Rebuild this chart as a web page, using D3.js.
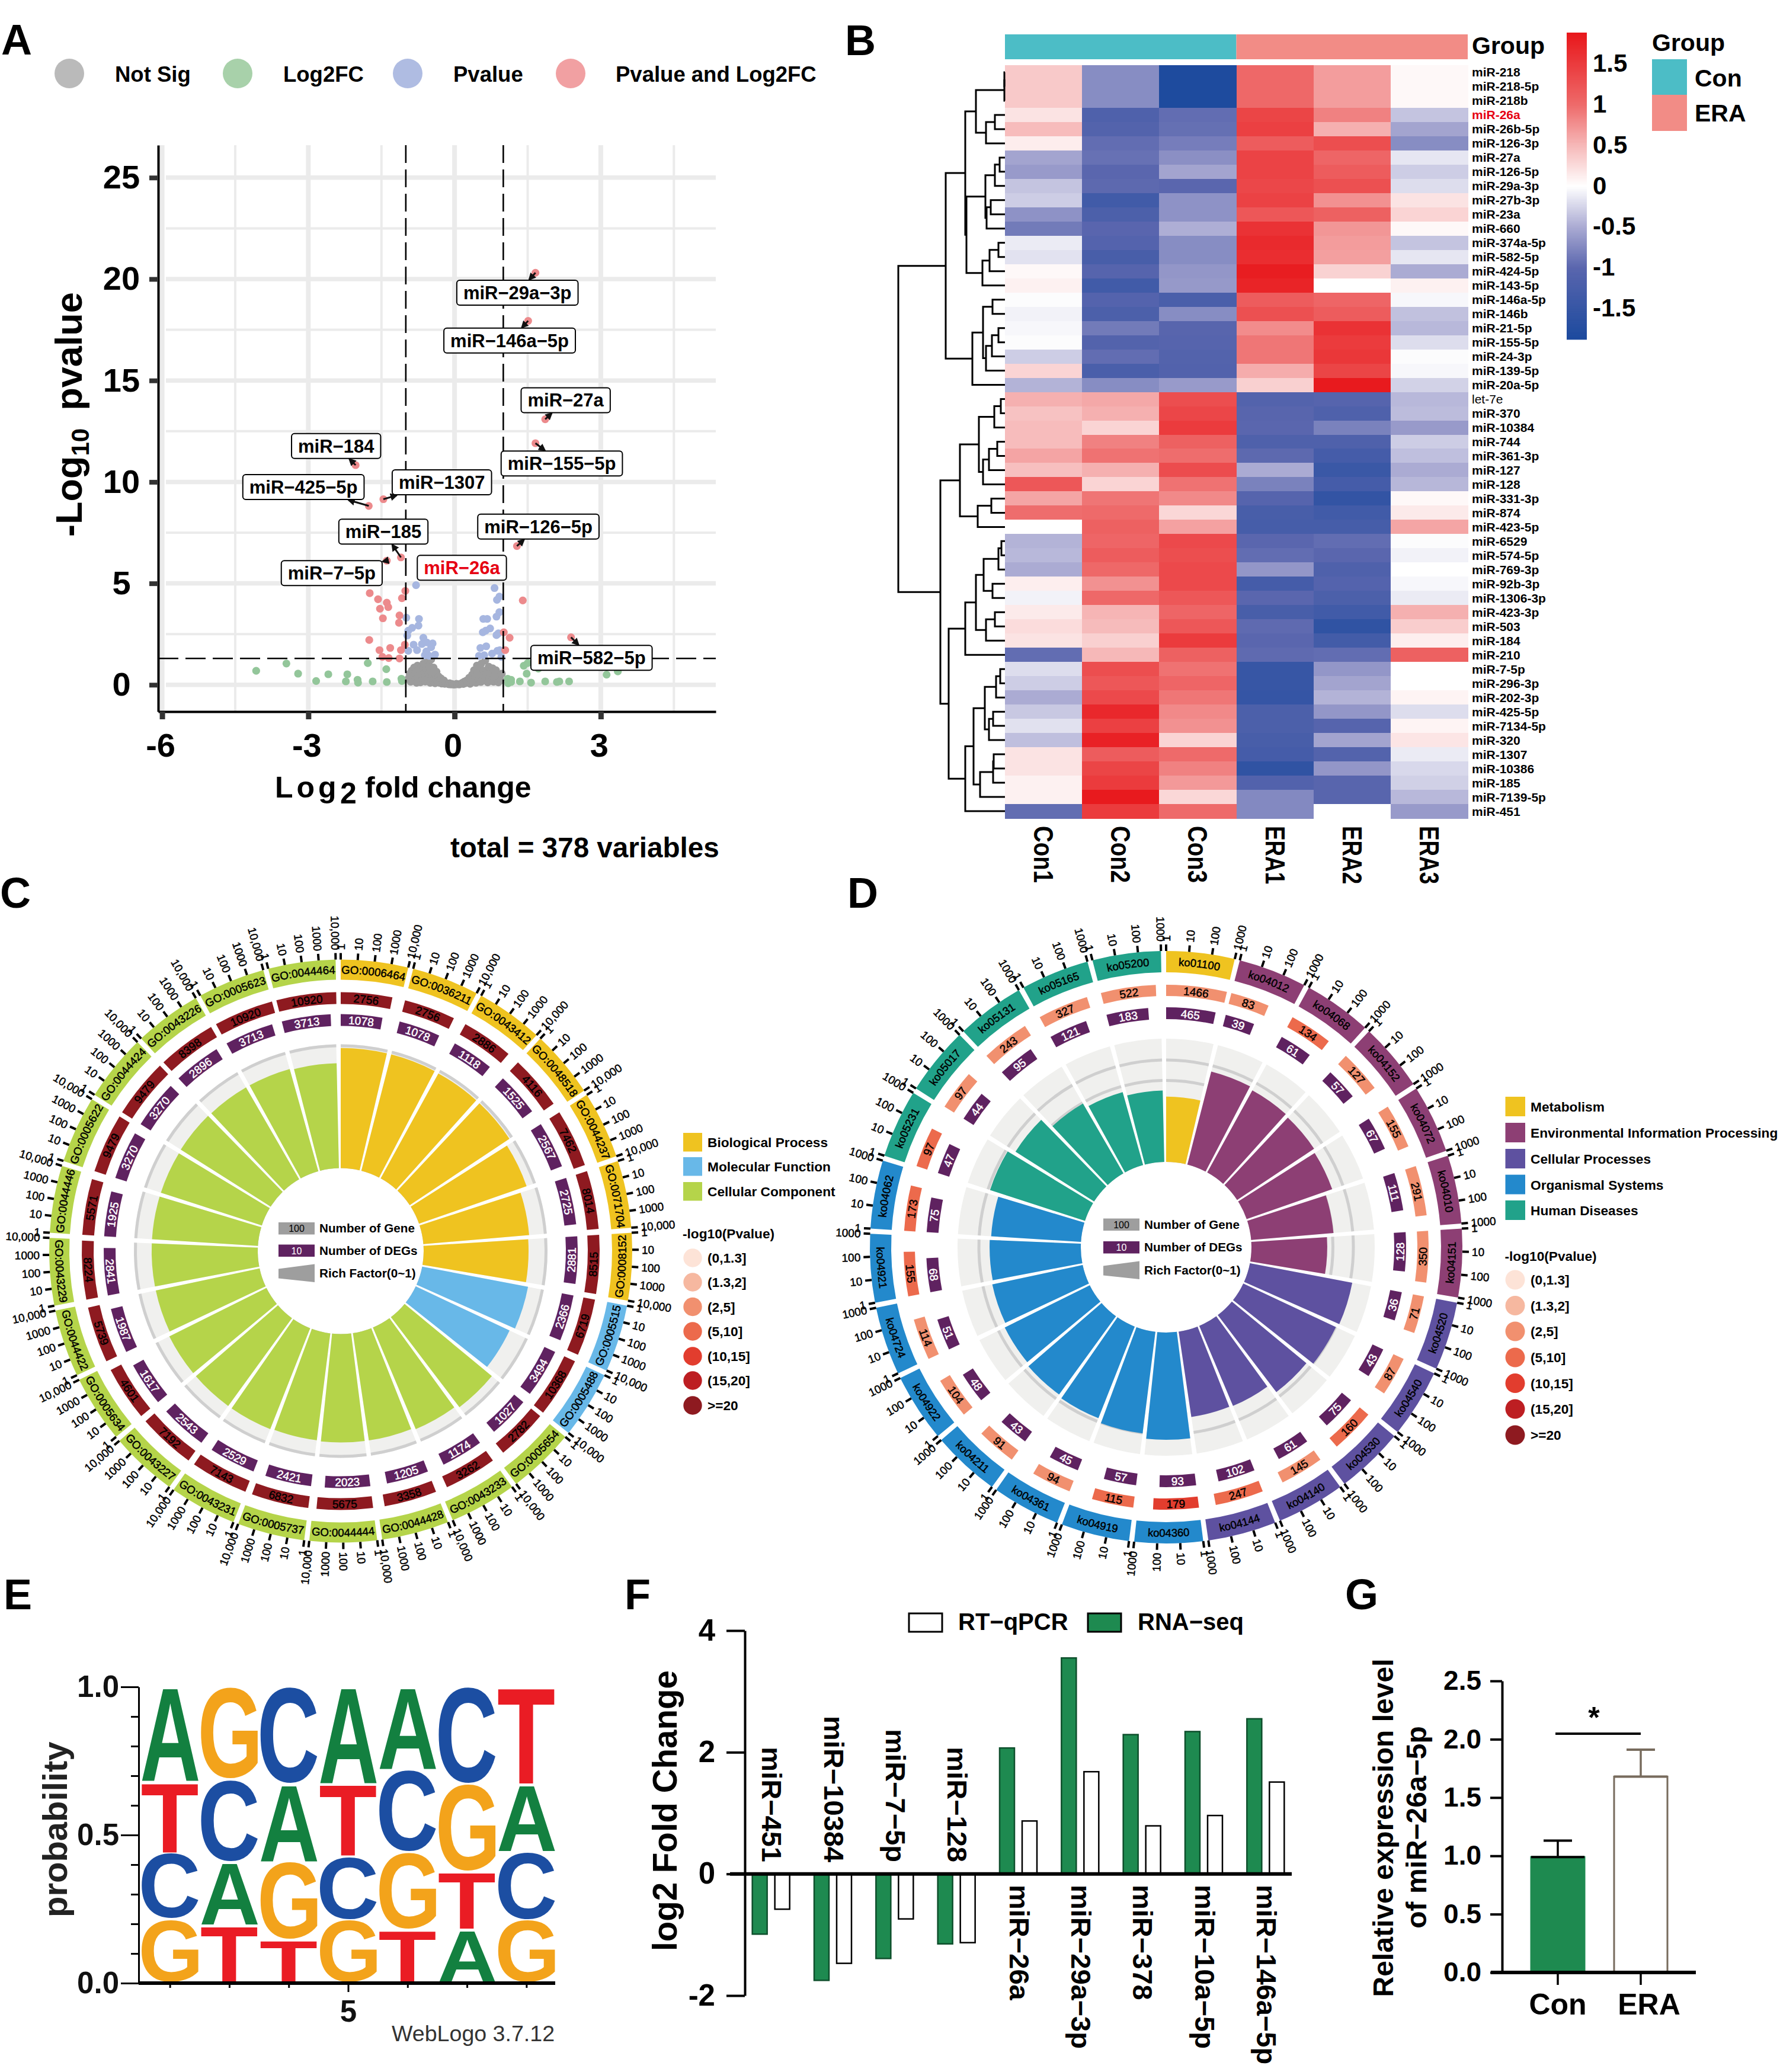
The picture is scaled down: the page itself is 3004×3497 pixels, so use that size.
<!DOCTYPE html>
<html><head><meta charset="utf-8">
<script src="https://cdnjs.cloudflare.com/ajax/libs/d3/7.8.5/d3.min.js"></script>
<style>html,body{margin:0;padding:0;background:#fff}</style></head>
<body><script>
/* ---------- Panel A data ---------- */
const volcanoLegend=["Not Sig","Log2FC","Pvalue","Pvalue and Log2FC"];
const redLfc=[1.66,1.51,1.86,1.66,-2.03,-1.76,-1.46,-1.10,-1.39,1.28,1.40,2.39,-1.74,-1.01,-1.57,-1.08,-1.39,-1.36,-1.53,-1.13,-1.47,-1.14,-1.75,1.01,1.13,-1.54,-1.32,-1.02,-1.10,-1.48,-1.35,-1.13,1.04];
const redLogP=[20.31,17.94,13.09,11.91,10.83,8.82,9.15,6.28,6.12,6.84,4.16,2.34,4.52,4.63,4.22,4.27,4.05,3.83,3.75,3.42,3.28,3.06,2.21,2.59,2.32,1.71,1.82,1.98,1.71,1.38,1.32,1.30,1.71];
const blueLfc=[-.79,.82,.92,.87,.92,.86,-.99,-.73,-.74,-.87,-.95,-.97,.59,.67,.73,.64,.58,-.64,-.84,-.67,-.57,-.45,-.48,-.58,-.77,-.95,-.40,-.52,-.61,.53,.65,.86,.90,.93,.88,.77,.61,.50,.96];
const blueLogP=[4.91,4.77,4.35,4.19,3.58,3.36,3.31,3.25,2.92,2.81,2.67,2.43,3.25,3.25,2.78,2.67,2.59,2.32,1.98,2.01,2.09,2.04,1.85,1.65,1.71,1.68,1.49,1.43,1.46,1.82,1.90,2.45,2.54,1.71,1.68,1.54,1.46,1.43,1.38];
const greenLfc=[-4.07,-3.45,-3.21,-2.84,-2.59,-2.20,-2.23,-1.99,-1.98,-1.68,-1.78,-1.40,-1.39,-1.09,-1.08,1.09,1.16,1.10,1.16,1.34,1.48,1.42,1.50,1.57,1.72,1.86,2.10,2.15,2.35,3.12,3.35];
const greenLogP=[.69,1.05,.55,.19,.52,.52,.17,.25,.11,.17,1.07,.77,.14,.30,.19,.30,.25,.08,.14,.17,.55,.94,1.07,.11,.80,.17,.14,.17,.17,.50,.66];
const grayLfc=[-.95,-.92,-.9,-.88,-.85,-.83,-.82,-.8,-.78,-.76,-.75,-.73,-.7,-.7,-.68,-.66,-.65,-.64,-.62,-.6,-.6,-.58,-.56,-.55,-.53,-.52,-.5,-.5,-.48,-.46,-.44,-.43,-.41,-.4,-.38,-.37,-.35,-.33,-.31,-.3,-.28,-.26,-.24,-.22,-.2,-.18,-.15,-.12,-.1,-.08,-.05,-.02,.02,.04,.07,.1,.13,.16,.18,.2,.22,.25,.27,.3,.32,.34,.36,.38,.4,.42,.44,.46,.47,.5,.52,.54,.55,.58,.6,.62,.63,.65,.68,.7,.72,.74,.76,.78,.8,.83,.85,.87,.9,.92,.95,.97];
const grayLogP=[.3,.55,.15,.7,.4,.85,.2,.6,.1,.95,.35,.75,.5,.12,.88,.28,.9,1.05,.6,.16,.42,.78,1.18,.32,.55,.95,.1,.7,1.25,.4,.2,.85,.55,.08,.3,.65,.18,.42,.1,.25,.32,.06,.15,.22,.05,.1,.06,.03,.08,.02,.04,.01,.02,.05,.03,.02,.06,.1,.04,.16,.08,.22,.12,.35,.05,.28,.5,.15,.72,.38,.1,.95,.58,.25,.85,.14,1.05,.45,.7,.22,1.2,.55,.12,.9,.35,.62,.2,.82,.15,.48,.72,.26,.12,.4,.22,.55];
const labelNames=["miR−29a−3p","miR−146a−5p","miR−27a","miR−155−5p","miR−184","miR−425−5p","miR−1307","miR−185","miR−126−5p","miR−7−5p","miR−26a","miR−582−5p"];
const labelPointLfc=[1.66,1.51,1.86,1.66,-2.03,-1.76,-1.46,-1.10,1.28,-1.39,null,2.39];
const labelPointLogP=[20.31,17.94,13.09,11.91,10.83,8.82,9.15,6.28,6.84,6.12,null,2.34];
const labelAtLfc=[1.29,1.13,2.28,2.20,-2.43,-3.10,-.26,-1.46,1.72,-2.52,.15,2.81];
const labelAtLogP=[19.33,16.97,14.03,10.91,11.77,9.75,9.98,7.55,7.8,5.51,5.77,1.33];

/* ---------- Panel B data ---------- */
const heatColumns=["Con1","Con2","Con3","ERA1","ERA2","ERA3"];
const heatRows=["miR-218","miR-218-5p","miR-218b","miR-26a","miR-26b-5p","miR-126-3p","miR-27a","miR-126-5p","miR-29a-3p","miR-27b-3p","miR-23a","miR-660","miR-374a-5p","miR-582-5p","miR-424-5p","miR-143-5p","miR-146a-5p","miR-146b","miR-21-5p","miR-155-5p","miR-24-3p","miR-139-5p","miR-20a-5p","let-7e","miR-370","miR-10384","miR-744","miR-361-3p","miR-127","miR-128","miR-331-3p","miR-874","miR-423-5p","miR-6529","miR-574-5p","miR-769-3p","miR-92b-3p","miR-1306-3p","miR-423-3p","miR-503","miR-184","miR-210","miR-7-5p","miR-296-3p","miR-202-3p","miR-425-5p","miR-7134-5p","miR-320","miR-1307","miR-10386","miR-185","miR-7139-5p","miR-451"];
const heatValues=[
[.38,-.72,-1.85,1.02,.67,.05],[.38,-.72,-1.85,1.02,.67,.05],[.38,-.72,-1.85,1.02,.67,.05],
[.2,-1.15,-.95,1.4,.85,-.35],[.47,-1.1,-.93,1.45,.55,-.55],[.13,-.95,-.83,1.15,1.3,-.72],
[-.55,-.92,-.7,1.42,1.05,-.15],[-.62,-1.0,-.55,1.42,1.15,-.3],[-.35,-.98,-1.0,1.37,1.28,-.2],
[-.3,-1.35,-.68,1.43,.75,.2],[-.68,-1.2,-.68,1.2,1.1,.3],[-.85,-1.02,-.48,1.6,.72,.05],
[-.12,-1.08,-.72,1.68,.68,-.35],[-.17,-1.25,-.72,1.65,.66,-.15],[.05,-1.05,-.65,1.82,.32,-.5],
[.1,-1.35,-.63,1.75,0,.1],[-.02,-1.08,-1.22,1.15,1.05,-.05],[-.08,-1.2,-.72,1.28,1.15,-.37],
[-.05,-.85,-1.03,.78,1.6,-.42],[-.02,-1.1,-1.05,.92,1.5,-.2],[-.3,-.95,-1.1,.92,1.55,-.02],
[.3,-1.22,-1.12,.58,1.4,-.05],[-.45,-.72,-.62,.33,1.85,-.27],
[.55,.6,1.3,-1.1,-1.05,-.42],[.43,.55,1.38,-1.03,-1.15,-.4],[.47,.3,1.5,-1.0,-.8,-.62],
[.47,.85,1.1,-1.15,-1.15,-.3],[.63,.95,.98,-.98,-1.3,-.38],[.45,.55,1.32,-.5,-1.45,-.5],
[1.2,.3,.95,-.8,-1.3,-.43],[.62,.93,.8,-1.05,-1.55,.05],[.98,1.0,.28,-1.25,-1.35,.15],
[0,1.1,.65,-1.28,-1.28,.62],[-.45,1.05,1.35,-1.0,-.95,-.02],[-.42,1.15,1.3,-.95,-1.0,-.08],
[-.5,1.02,1.35,-.65,-1.15,0],[.12,.75,1.35,-1.3,-1.08,-.05],[-.08,1.02,1.2,-1.0,-1.2,-.12],
[.15,.52,1.05,-1.25,-1.35,.55],[.25,.48,1.2,-.97,-1.6,.35],[.2,.33,1.5,-1.0,-1.32,.12],
[-.95,.5,1.1,-.97,-.95,1.1],[-.2,1.3,.95,-1.5,-.65,0],[-.3,1.2,1.05,-1.5,-.55,0],
[-.5,1.35,.92,-1.52,-.45,.08],[-.33,1.7,.8,-1.2,-.65,-.2],[-.18,1.45,.75,-1.2,-1.05,.08],
[-.38,1.78,.3,-1.25,-.55,.18],[.2,1.15,1.0,-1.3,-1.1,-.12],[.2,1.4,.85,-1.6,-.65,-.23],
[.1,1.5,.7,-1.12,-1.03,-.28],[.1,1.85,.28,-.75,-1.03,-.42],[-.95,1.5,1.0,-.75,0,-.62]];
const heatTicks=[1.5,1,.5,0,-.5,-1,-1.5];
const dendrogram=[180,
 [100,
  [67,
   [49,[1,[1,"miR-218","miR-218-5p"],"miR-218b"],[32,[17,"miR-26a","miR-26b-5p"],"miR-126-3p"]],
   [65,
    [33,[17,[9,"miR-27a","miR-126-5p"],"miR-29a-3p"],[31,[24,"miR-27b-3p","miR-23a"],"miR-660"]],
    [38,[26,[11,"miR-374a-5p","miR-582-5p"],"miR-424-5p"],"miR-143-5p"]]],
  [55,
   [37,[21,"miR-146a-5p","miR-146b"],[32,[22,[11,"miR-21-5p","miR-155-5p"],"miR-24-3p"],"miR-139-5p"]],
   "miR-20a-5p"]],
 [109,
  [76,
   [44,[18,[7,"let-7e","miR-370"],"miR-10384"],[37,[27,[13,"miR-744","miR-361-3p"],"miR-127"],"miR-128"]],
   [46,[23,"miR-331-3p","miR-874"],"miR-423-5p"]],
  [95,
   [67,
    [49,
     [36,[11,[6,"miR-6529","miR-574-5p"],"miR-769-3p"],[21,"miR-92b-3p","miR-1306-3p"]],
     [32,[17,"miR-423-3p","miR-503"],"miR-184"]],
    "miR-210"],
   [67,
    [53,
     [34,[15,[8,"miR-7-5p","miR-296-3p"],"miR-202-3p"],[27,[20,"miR-425-5p","miR-7134-5p"],"miR-320"]],
     [42,[20,[19,"miR-1307","miR-10386"],"miR-185"],"miR-7139-5p"]],
    "miR-451"]]]];

/* ---------- Panels C, D data ---------- */
const goIds=["GO:0006464","GO:0036211","GO:0043412","GO:0048518","GO:0044237","GO:0071704","GO:0008152","GO:0005515","GO:0005488","GO:0005654","GO:0043233","GO:0044428","GO:0044444","GO:0005737","GO:0043231","GO:0043227","GO:0005634","GO:0044422","GO:0043229","GO:0044446","GO:0005622","GO:0044424","GO:0043226","GO:0005623","GO:0044464"];
const goGroup=[0,0,0,0,0,0,0,1,1,2,2,2,2,2,2,2,2,2,2,2,2,2,2,2,2];
const goGenes=[2756,2756,2886,4116,7462,8014,8515,6719,10368,2782,3262,3358,5675,6832,7143,7192,4601,5739,8224,5571,9479,9479,8398,10920,10920];
const goDegs=[1078,1078,1118,1525,2567,2725,2881,2366,3494,1027,1174,1205,2023,2421,2529,2543,1617,1987,2841,1925,3270,3270,2896,3713,3713];
const goRich=[.97,.97,.967,.967,.92,.857,.847,.87,.837,.914,.89,.876,.876,.87,.876,.876,.876,.857,.857,.857,.857,.86,.857,.857,.847];
const goClass=[6,6,6,6,6,6,6,6,6,6,6,6,6,6,6,6,6,6,6,6,6,6,6,6,6];
const goTicks=[1,10,100,1000,10000];
const goGroupNames=["Biological Process","Molecular Function","Cellular Component"];
const koIds=["ko01100","ko04012","ko04068","ko04152","ko04072","ko04010","ko04151","ko04520","ko04540","ko04530","ko04140","ko04144","ko04360","ko04919","ko04361","ko04211","ko04922","ko04724","ko04921","ko04062","ko05231","ko05017","ko05131","ko05165","ko05200"];
const koGroup=[0,1,1,1,1,1,1,2,2,2,2,2,3,3,3,3,3,3,3,3,4,4,4,4,4];
const koGenes=[1466,83,134,127,155,291,350,71,87,160,145,247,179,115,94,91,104,114,155,173,97,97,243,327,522];
const koDegs=[465,39,61,57,67,111,128,36,43,75,61,102,93,57,45,43,48,51,68,75,47,44,95,121,183];
const koRich=[.53,.78,.76,.75,.735,.67,.615,.845,.83,.785,.705,.70,.87,.83,.80,.785,.77,.75,.74,.73,.81,.755,.655,.615,.58];
const koClass=[2,2,3,2,2,2,2,2,2,3,2,3,4,3,2,2,2,2,3,3,3,2,2,2,2];
const koTicks=[1,10,100,1000];
const koGroupNames=["Metabolism","Environmental Information Processing","Cellular Processes","Organismal Systems","Human Diseases"];
const pClassNames=["(0,1.3]","(1.3,2]","(2,5]","(5,10]","(10,15]","(15,20]",">=20"];
const pClassColors=["#FDE3D7","#F6B8A0","#F1906F","#EC6A4C","#E23D2E","#BD1E22","#8E1A20"];

/* ---------- Panel E data ---------- */
const logoLetters=["ATCG","GCAT","CAGT","ATCG","ACGT","CGTA","TACG"];
const logoProb=[[.32,.24,.225,.215],[.312,.278,.214,.196],[.328,.262,.263,.147],[.328,.245,.214,.213],[.279,.278,.262,.181],[.328,.295,.196,.181],[.328,.228,.23,.214]];

/* ---------- Panel F data ---------- */
const fcNames=["miR−451","miR−10384","miR−7−5p","miR−128","miR−26a","miR−29a−3p","miR−378","miR−10a−5p","miR−146a−5p"];
const rnaSeq=[-.99,-1.75,-1.39,-1.15,2.07,3.55,2.29,2.34,2.55];
const rtQpcr=[-.58,-1.47,-.74,-1.13,.87,1.68,.79,.96,1.51];

/* ---------- Panel G data ---------- */
const expGroups=["Con","ERA"];
const expMean=[.99,1.68];
const expTop=[1.13,1.91];

/* ---------- helpers ---------- */
const FONT='"Liberation Sans"';
const svg=d3.select("body").append("svg").attr("width",3004).attr("height",3497).attr("viewBox","0 0 3004 3497").style("display","block").style("font-family",FONT).style("background","#fff");
function txt(g,x,y,s,size,o={}){
  const t=g.append("text").attr("font-size",size).attr("font-weight",o.w||"bold").attr("text-anchor",o.a||"start").attr("fill",o.f||"#000").text(s);
  if(o.rot!==undefined) t.attr("transform",`translate(${x},${y}) rotate(${o.rot})${o.sx?` scale(${o.sx},1)`:""}`);
  else t.attr("x",x).attr("y",y);
  return t;
}
const panelLetters=[["A",2,92],["B",1426,93],["C",0,1532],["D",1430,1532],["E",6,2716],["F",1054,2716],["G",2270,2716]];
panelLetters.forEach(p=>txt(svg,p[1],p[2],p[0],72));

/* ---------- Panel A ---------- */
(function(){
  const g=svg.append("g");
  const x=d3.scaleLinear().domain([-6.08,5.36]).range([267,1208]);
  const y=d3.scaleLinear().domain([-1.32,26.6]).range([1201,245]);
  const legC=["#BABABA","#A8D1AA","#AFBCE2","#F1A0A2"], legX=[117,401,688,963], legT=[194,478,765,1039];
  volcanoLegend.forEach((n,i)=>{
    g.append("circle").attr("cx",legX[i]).attr("cy",124).attr("r",25).attr("fill",legC[i]);
    txt(g,legT[i],138,n,36.5);
  });
  const grid=g.append("g").attr("stroke","#EBEBEB").attr("fill","none");
  d3.range(0,26,5).forEach(v=>grid.append("line").attr("x1",280).attr("x2",1208).attr("y1",y(v)).attr("y2",y(v)).attr("stroke-width",7.5));
  d3.range(2.5,26,5).forEach(v=>grid.append("line").attr("x1",280).attr("x2",1208).attr("y1",y(v)).attr("y2",y(v)).attr("stroke-width",4));
  [-6,-3,0,3].forEach(v=>grid.append("line").attr("y1",245).attr("y2",1201).attr("x1",x(v)).attr("x2",x(v)).attr("stroke-width",8));
  [-4.5,-1.5,1.5,4.5].forEach(v=>grid.append("line").attr("y1",245).attr("y2",1201).attr("x1",x(v)).attr("x2",x(v)).attr("stroke-width",4));
  const series=[[grayLfc,grayLogP,"#9C9C9C"],[greenLfc,greenLogP,"#93C69A"],[blueLfc,blueLogP,"#A6B6E0"],[redLfc,redLogP,"#EC8A8C"]];
  series.forEach(s=>{
    g.append("g").selectAll("circle").data(s[0]).join("circle")
      .attr("cx",d=>x(d)).attr("cy",(d,i)=>y(s[1][i])).attr("r",6.6).attr("fill",s[2]);
  });
  [-1,1].forEach(v=>g.append("line").attr("x1",x(v)).attr("x2",x(v)).attr("y1",245).attr("y2",1201).attr("stroke","#000").attr("stroke-width",2.6).attr("stroke-dasharray","30 11"));
  g.append("line").attr("x1",267).attr("x2",1208).attr("y1",y(1.3)).attr("y2",y(1.3)).attr("stroke","#000").attr("stroke-width",2.6).attr("stroke-dasharray","34 12");
  const ax=g.append("g").attr("transform","translate(0,1201)").call(d3.axisBottom(x).tickValues([-6,-3,0,3]).tickSizeInner(13).tickSizeOuter(0).tickPadding(23).tickFormat(d=>String(d)));
  ax.select(".domain").attr("stroke","#000").attr("stroke-width",4);
  ax.selectAll("line").attr("stroke","#333").attr("stroke-width",9);
  ax.selectAll("text").attr("font-size",56).attr("font-weight","bold").attr("font-family",FONT).attr("fill","#000").attr("dx",-3);
  const ay=g.append("g").attr("transform","translate(267,0)").call(d3.axisLeft(y).tickValues([0,5,10,15,20,25]).tickSizeInner(15).tickSizeOuter(0).tickFormat(d=>String(d)));
  ay.select(".domain").attr("stroke","#000").attr("stroke-width",4);
  ay.selectAll("line").attr("stroke","#333").attr("stroke-width",8);
  ay.selectAll("text").attr("font-size",56).attr("font-weight","bold").attr("font-family",FONT).attr("fill","#000").attr("text-anchor","middle").attr("x",-62);
  const defs=svg.append("defs");
  defs.append("marker").attr("id","ah").attr("viewBox","0 0 10 10").attr("refX",8).attr("refY",5).attr("markerUnits","userSpaceOnUse").attr("markerWidth",13).attr("markerHeight",13).attr("orient","auto").append("path").attr("d","M0,0L10,5L0,10z").attr("fill","#111");
  labelNames.forEach((n,i)=>{
    const lx=x(labelAtLfc[i]), ly=y(labelAtLogP[i]);
    const grp=g.append("g");
    const t=txt(grp,lx,ly+11,n,31,{a:"middle",f:n==="miR−26a"?"#E60012":"#000"});
    const b=t.node().getComputedTextLength();
    const w=b+22,h=42;
    if(labelPointLfc[i]!==null){
      const px=x(labelPointLfc[i]),py=y(labelPointLogP[i]);
      const dx=lx-px,dy=ly-py;
      const k=Math.min(Math.abs((w/2+1)/dx),Math.abs((h/2+1)/dy));
      const ex=lx-dx*k, ey=ly-dy*k;
      grp.insert("line","text").attr("x1",px).attr("y1",py).attr("x2",ex).attr("y2",ey).attr("stroke","#111").attr("stroke-width",3).attr("marker-end","url(#ah)");
    }
    grp.insert("rect","text").attr("x",lx-w/2).attr("y",ly-h/2).attr("width",w).attr("height",h).attr("rx",5).attr("fill","#fff").attr("stroke","#000").attr("stroke-width",2);
  });
  const yt=g.append("text").attr("transform","translate(138,906) rotate(-90)").attr("font-weight","bold").attr("font-size",63).attr("xml:space","preserve");
  yt.append("tspan").text("-Log");
  yt.append("tspan").attr("font-size",42).attr("dy",12).text("10");
  yt.append("tspan").attr("dy",-12).attr("dx",30).text("pvalue");
  txt(g,464,1346,"Log",50).attr("letter-spacing",6);
  txt(g,574,1356,"2",50);
  txt(g,616,1346,"fold change",50);
  txt(g,760,1447,"total = 378 variables",47.6);
})();

/* ---------- Panel B ---------- */
(function(){
  const g=svg.append("g");
  const x=d3.scaleBand().domain(heatColumns).range([1696,2477]);
  const y=d3.scaleBand().domain(heatRows).range([110,1381]);
  const maxV=1.876;
  const color=d3.scaleLinear().domain([-maxV,-1,-.5,0,.5,1,maxV]).range(["#1C4A9E","#5A66AE","#ABABD3","#FFFFFF","#F6B8B8","#EE6A6A","#E8181C"]);
  g.append("rect").attr("x",x("Con1")).attr("y",58).attr("width",x.bandwidth()*3).attr("height",42).attr("fill","#4CBDC6");
  g.append("rect").attr("x",x("ERA1")).attr("y",58).attr("width",x.bandwidth()*3).attr("height",42).attr("fill","#F28C86");
  txt(g,2484,91,"Group",41);
  heatRows.forEach((r,i)=>{
    g.append("g").selectAll("rect").data(heatValues[i]).join("rect")
      .attr("x",(d,j)=>x(heatColumns[j])).attr("y",y(r)).attr("width",x.bandwidth()+.5).attr("height",y.bandwidth()+.5)
      .attr("fill",d=>color(d)).attr("shape-rendering","crispEdges");
    txt(g,2484,y(r)+y.bandwidth()/2+7.5,r,21,{w:r==="let-7e"?"normal":"bold",f:r==="miR-26a"?"#E60012":"#000"});
  });
  heatColumns.forEach(c=>{
    txt(g,x(c)+x.bandwidth()/2-16,1394,c,46,{rot:90,sx:c[0]==="C"?.835:.8});
  });
  const hx=d3.scaleLinear().domain([0,180]).range([1696,1516]);
  const dg=g.append("g").attr("fill","none").attr("stroke","#000").attr("stroke-width",3);
  (function walk(n){
    if(typeof n==="string") return {h:0,y:y(n)+y.bandwidth()/2};
    const a=walk(n[1]),b=walk(n[2]);
    dg.append("path").attr("d",`M${hx(a.h)},${a.y}H${hx(n[0])}V${b.y}H${hx(b.h)}`);
    return {h:n[0],y:(a.y+b.y)/2};
  })(dendrogram);
  const cy=d3.scaleLinear().domain([maxV,-maxV]).range([55,571]);
  g.append("g").selectAll("rect").data(d3.range(maxV,-maxV,-0.02)).join("rect")
    .attr("x",2644).attr("width",34).attr("y",d=>cy(d)).attr("height",4).attr("fill",d=>color(d));
  heatTicks.forEach(t=>txt(g,2688,cy(t)+14.5,String(t),42));
  txt(g,2788,86,"Group",41);
  g.append("rect").attr("x",2788).attr("y",100).attr("width",59).attr("height",60).attr("fill","#4CBDC6");
  g.append("rect").attr("x",2788).attr("y",160).attr("width",59).attr("height",61).attr("fill","#F28C86");
  txt(g,2860,146,"Con",41);
  txt(g,2860,205,"ERA",41);
})();

/* ---------- Panels C, D ---------- */
const rad=d=>d*Math.PI/180;
let bendId=0;
function bend(g,ang,rc,str,size,fill,w){
  const flip=((ang%360)+360)%360>90&&((ang%360)+360)%360<270;
  const r=flip?rc+.36*size:rc-.36*size;
  const pt=a=>[r*Math.sin(rad(a)),-r*Math.cos(rad(a))];
  const p0=pt(flip?ang+35:ang-35),p1=pt(flip?ang-35:ang+35);
  const id="bp"+(bendId++);
  g.append("path").attr("id",id).attr("fill","none").attr("stroke","none")
    .attr("d",`M${p0[0]},${p0[1]}A${r},${r} 0 0 ${flip?0:1} ${p1[0]},${p1[1]}`);
  g.append("text").attr("font-size",size).attr("fill",fill).attr("text-anchor","middle").attr("font-weight",w||"normal")
    .attr("stroke",fill).attr("stroke-width",.5)
    .append("textPath").attr("href","#"+id).attr("startOffset","50%").text(str);
}
function drawCirc(c){
  const g=svg.append("g").attr("transform",`translate(${c.cx},${c.cy})`);
  const step=360/c.ids.length, span=13.4, barSpan=13.15;
  const arc=(r0,r1,a0,a1)=>d3.arc().innerRadius(r0).outerRadius(r1).startAngle(rad(a0)).endAngle(rad(a1))();
  const rS=d3.scaleLinear().domain([0,1]).range([c.r.inner,c.r.bg]);
  c.ids.forEach((id,i)=>{
    const a0=i*step;
    const axis=d3.scaleLog().domain([1,c.ticks[c.ticks.length-1]]).range([a0,a0+span]).clamp(true);
    g.append("path").attr("d",arc(c.r.band0,c.r.band1,a0,a0+span)).attr("fill",c.colors[c.group[i]]);
    bend(g,a0+span/2,(c.r.band0+c.r.band1)/2,id,c.idSize,"#000");
    c.ticks.forEach(t=>{
      const a=axis(t), sin=Math.sin(rad(a)), cos=Math.cos(rad(a));
      const R=c.r.band1;
      g.append("line").attr("x1",R*sin).attr("y1",-R*cos).attr("x2",(R+11)*sin).attr("y2",-(R+11)*cos).attr("stroke","#000").attr("stroke-width",4);
      const R2=R+16, right=a<180;
      g.append("text").attr("transform",`translate(${R2*sin},${-R2*cos}) rotate(${right?a-90:a+90})`)
        .attr("dy",".36em").attr("text-anchor",right?"start":"end").attr("font-size",19).attr("stroke","#000").attr("stroke-width",.5).text(d3.format(t>=10000?",":"d")(t));
    });
    const e2=axis(c.genes[i]), e3=axis(c.degs[i]);
    g.append("path").attr("d",arc(c.r.g0,c.r.g1,a0,e2)).attr("fill",pClassColors[c.cls[i]]);
    bend(g,(a0+e2)/2,(c.r.g0+c.r.g1)/2,String(c.genes[i]),19,"#000");
    g.append("path").attr("d",arc(c.r.d0,c.r.d1,a0,e3)).attr("fill","#5F2260");
    bend(g,(a0+e3)/2,(c.r.d0+c.r.d1)/2,String(c.degs[i]),19,"#fff");
    g.append("path").attr("d",arc(c.r.inner,c.r.bg,a0,a0+barSpan)).attr("fill","#F0F0EE");
    c.r.lines.forEach(L=>g.append("path").attr("d",arc(L-2.5,L+2.5,a0,a0+barSpan)).attr("fill","#CFCFCF"));
    g.append("path").attr("d",arc(c.r.inner,c.r.inner+2.5,a0,a0+barSpan)).attr("fill","#C9C9D1");
    g.append("path").attr("d",arc(c.r.inner,rS(c.rich[i]),a0,a0+barSpan)).attr("fill",c.colors[c.group[i]]);
  });
  const L=c.center, lg=svg.append("g");
  lg.append("rect").attr("x",L.x).attr("y",L.y[0]).attr("width",61).attr("height",20.5).attr("fill","#9E9E9E");
  lg.append("text").attr("x",L.x+30.5).attr("y",L.y[0]+16).attr("font-size",16).attr("text-anchor","middle").text("100");
  lg.append("rect").attr("x",L.x).attr("y",L.y[1]).attr("width",61).attr("height",20.5).attr("fill","#5F2260");
  lg.append("text").attr("x",L.x+30.5).attr("y",L.y[1]+16).attr("font-size",16).attr("text-anchor","middle").attr("fill","#fff").text("10");
  lg.append("path").attr("d",`M${L.x},${L.y[2]+8}L${L.x+61},${L.y[2]}V${L.y[2]+30.5}L${L.x},${L.y[2]+24}Z`).attr("fill","#9E9E9E");
  txt(lg,L.x+69,L.y[0]+17,"Number of Gene",20.7);
  txt(lg,L.x+69,L.y[1]+17,"Number of DEGs",20.7);
  txt(lg,L.x+69,L.y[2]+22.5,"Rich Factor(0~1)",20.7);
  const K=c.legend;
  c.groupNames.forEach((n,i)=>{
    lg.append("rect").attr("x",K.x).attr("y",K.ys[i]).attr("width",K.w).attr("height",K.h).attr("fill",c.colors[i]);
    txt(lg,K.tx,K.ys[i]+K.h-8,n,22.7);
  });
  txt(lg,K.x-1,K.ty,"-log10(Pvalue)",22.7);
  pClassNames.forEach((n,i)=>{
    lg.append("circle").attr("cx",K.cx).attr("cy",K.cy[i]).attr("r",K.cr).attr("fill",pClassColors[i]);
    txt(lg,K.tx,K.cy[i]+8,n,22.7);
  });
}
drawCirc({cx:575,cy:2111.5,ids:goIds,group:goGroup,genes:goGenes,degs:goDegs,rich:goRich,cls:goClass,ticks:goTicks,groupNames:goGroupNames,idSize:18.8,
  colors:["#EFC320","#68B8E8","#B5D44A"],
  r:{band0:458,band1:492,g0:417,g1:437,d0:380,d1:400,inner:140,bg:349,lines:[346.5]},
  center:{x:470,y:[2063,2100.5,2133.5]},
  legend:{x:1153,w:32,h:31.5,ys:[1912,1953,1995],tx:1194,ty:2090,cx:1169,cr:15.7,cy:[2123,2164,2205.5,2247,2289,2330,2372]}});
drawCirc({cx:1968,cy:2105,ids:koIds,group:koGroup,genes:koGenes,degs:koDegs,rich:koRich,cls:koClass,ticks:koTicks,groupNames:koGroupNames,idSize:18.5,
  colors:["#EFC320","#8D3F74","#5E51A0","#2389CC","#21A28A"],
  r:{band0:464,band1:500,g0:424,g1:443,d0:385,d1:405,inner:144,bg:352,lines:[316,281.5]},
  center:{x:1862,y:[2056.5,2095,2128.5]},
  legend:{x:2540.5,w:33.5,h:33,ys:[1851,1895,1939,1982.6,2026],tx:2583,ty:2128,cx:2557,cr:16.5,cy:[2160,2203.6,2247,2291,2334.6,2378,2422]}});

/* ---------- Panel E ---------- */
(function(){
  const g=svg.append("g");
  const x=d3.scaleBand().domain(d3.range(1,8)).range([237,939]);
  const y=d3.scaleLinear().domain([0,1]).range([3347,2847]);
  const ctx=document.createElement("canvas").getContext("2d");
  ctx.font=`bold 100px ${FONT}`;
  const colr={A:"#138040",G:"#F3A31B",C:"#1C4EA2",T:"#EA1C24"};
  logoLetters.forEach((col,i)=>{
    let top=1;
    const x0=x(i+1)+2, w=x.bandwidth()-4;
    col.split("").forEach((ch,j)=>{
      const p=logoProb[i][j];
      const y0=y(top)+1.5, h=y(top-p)-y(top)-3;
      const m=ctx.measureText(ch);
      const L=-m.actualBoundingBoxLeft,R=m.actualBoundingBoxRight,A=m.actualBoundingBoxAscent,D=m.actualBoundingBoxDescent;
      g.append("text").attr("font-size",100).attr("font-weight","bold").attr("fill",colr[ch])
        .attr("transform",`translate(${x0},${y0}) scale(${w/(R-L)},${h/(A+D)}) translate(${-L},${A})`).text(ch);
      top-=p;
    });
  });
  const minor=g.append("g").attr("transform","translate(234,0)").call(d3.axisLeft(y).tickValues(d3.range(0,1.01,.1)).tickSizeInner(13).tickSizeOuter(0).tickFormat(""));
  minor.selectAll("line").attr("stroke","#000").attr("stroke-width",3);
  minor.select(".domain").attr("stroke","#000").attr("stroke-width",3);
  const maj=g.append("g").attr("transform","translate(234,0)").call(d3.axisLeft(y).tickValues([0,.5,1]).tickSizeInner(30).tickSizeOuter(0).tickPadding(3).tickFormat(d3.format(".1f")));
  maj.select(".domain").remove();
  maj.selectAll("line").attr("stroke","#000").attr("stroke-width",3);
  maj.selectAll("text").attr("font-size",51).attr("font-family",FONT).attr("font-weight","bold").attr("fill","#111");
  g.append("line").attr("x1",234).attr("x2",937).attr("y1",3347).attr("y2",3347).attr("stroke","#000").attr("stroke-width",6);
  d3.range(1,8).forEach(p=>g.append("line").attr("x1",x(p)+x.bandwidth()/2).attr("x2",x(p)+x.bandwidth()/2).attr("y1",3347).attr("y2",p===4?3362:3355).attr("stroke","#000").attr("stroke-width",3));
  txt(g,x(4)+x.bandwidth()/2,3412,"5",51,{a:"middle",f:"#111"});
  txt(g,661,3445,"WebLogo 3.7.12",37.6,{w:"normal",f:"#333"});
  txt(g,113,3236,"probability",58,{rot:-90,f:"#222"});
})();

/* ---------- Panel F ---------- */
(function(){
  const g=svg.append("g");
  const x=d3.scaleBand().domain(fcNames).range([1251,2190]);
  const sub=d3.scaleOrdinal().domain(["rna","qpcr"]).range([-32.5,5.5]);
  const y=d3.scaleLinear().domain([-2,4]).range([3368,2752]);
  const bar=(vals,key,fill,stroke)=>g.append("g").selectAll("rect").data(vals).join("rect")
    .attr("x",(d,i)=>x(fcNames[i])+x.bandwidth()/2+sub(key)-1).attr("width",25)
    .attr("y",d=>Math.min(y(d),y(0))).attr("height",d=>Math.abs(y(d)-y(0)))
    .attr("fill",fill).attr("stroke",stroke).attr("stroke-width",2.5);
  bar(rnaSeq,"rna","#1E8A50","#0E4F2C");
  bar(rtQpcr,"qpcr","#fff","#000");
  const ay=g.append("g").attr("transform","translate(1257,0)").call(d3.axisLeft(y).tickValues([-2,0,2,4]).tickSizeInner(31).tickSizeOuter(0).tickPadding(19).tickFormat(d=>String(d)));
  ay.select(".domain").attr("stroke","#000").attr("stroke-width",4);
  ay.selectAll("line").attr("stroke","#000").attr("stroke-width",4);
  ay.selectAll("text").attr("font-size",51).attr("font-weight","bold").attr("font-family",FONT).attr("fill","#000");
  g.append("line").attr("x1",1232).attr("x2",2180).attr("y1",y(0)).attr("y2",y(0)).attr("stroke","#000").attr("stroke-width",6);
  fcNames.forEach((n,i)=>{
    const cx=x(n)+x.bandwidth()/2-17, neg=rnaSeq[i]<0;
    txt(g,cx,neg?3143:3181,n,47,{rot:90,a:neg?"end":"start"});
  });
  txt(g,1142,3056,"log2 Fold Change",56.5,{rot:-90,a:"middle"});
  g.append("rect").attr("x",1534).attr("y",2723).attr("width",56).attr("height",31).attr("fill","#fff").attr("stroke","#000").attr("stroke-width",3);
  txt(g,1617,2751,"RT−qPCR",40);
  g.append("rect").attr("x",1836).attr("y",2723).attr("width",56).attr("height",31).attr("fill","#1E8A50").attr("stroke","#000").attr("stroke-width",3);
  txt(g,1920,2751,"RNA−seq",40);
})();

/* ---------- Panel G ---------- */
(function(){
  const g=svg.append("g");
  const x=d3.scaleBand().domain(expGroups).range([2559,2839]);
  const y=d3.scaleLinear().domain([0,2.5]).range([3329,2837]);
  const cols=["#1E8A50","#fff"], strokes=["#1E8A50","#776B5D"], errs=["#000","#776B5D"];
  expGroups.forEach((n,i)=>{
    const cx=x(n)+x.bandwidth()/2;
    g.append("line").attr("x1",cx).attr("x2",cx).attr("y1",y(expMean[i])).attr("y2",y(expTop[i])).attr("stroke",errs[i]).attr("stroke-width",3.5);
    g.append("line").attr("x1",cx-24).attr("x2",cx+24).attr("y1",y(expTop[i])).attr("y2",y(expTop[i])).attr("stroke",errs[i]).attr("stroke-width",4);
    g.append("rect").attr("x",cx-45).attr("width",90).attr("y",y(expMean[i])).attr("height",y(0)-y(expMean[i])).attr("fill",cols[i]).attr("stroke",strokes[i]).attr("stroke-width",3);
    g.append("line").attr("x1",cx-45).attr("x2",cx+45).attr("y1",y(expMean[i])).attr("y2",y(expMean[i])).attr("stroke",i?"#776B5D":"#000").attr("stroke-width",4);
  });
  const ay=g.append("g").attr("transform","translate(2535,0)").call(d3.axisLeft(y).tickValues([0,.5,1,1.5,2,2.5]).tickSizeInner(20).tickSizeOuter(0).tickPadding(15).tickFormat(d3.format(".1f")));
  ay.select(".domain").attr("stroke","#000").attr("stroke-width",4);
  ay.selectAll("line").attr("stroke","#000").attr("stroke-width",4);
  ay.selectAll("text").attr("font-size",46).attr("font-weight","bold").attr("font-family",FONT).attr("fill","#000");
  const ax=g.append("g").attr("transform","translate(0,3329)").call(d3.axisBottom(x).tickSizeInner(21).tickSizeOuter(0).tickPadding(14));
  ax.select(".domain").remove();
  ax.selectAll("line").attr("stroke","#000").attr("stroke-width",3.5);
  ax.selectAll("text").attr("font-size",50).attr("font-weight","bold").attr("font-family",FONT).attr("fill","#000")
    .attr("dx",d=>d==="ERA"?14:0);
  g.append("line").attr("x1",2516).attr("x2",2862).attr("y1",3329).attr("y2",3329).attr("stroke","#000").attr("stroke-width",6);
  g.append("line").attr("x1",2625).attr("x2",2769).attr("y1",2926).attr("y2",2926).attr("stroke","#000").attr("stroke-width",4);
  txt(g,2690,2916,"*",50,{a:"middle"});
  txt(g,2351,3085,"Relative expression level",48,{rot:-90,a:"middle"});
  txt(g,2407,3084,"of miR−26a−5p",48,{rot:-90,a:"middle"});
})();
</script></body></html>
